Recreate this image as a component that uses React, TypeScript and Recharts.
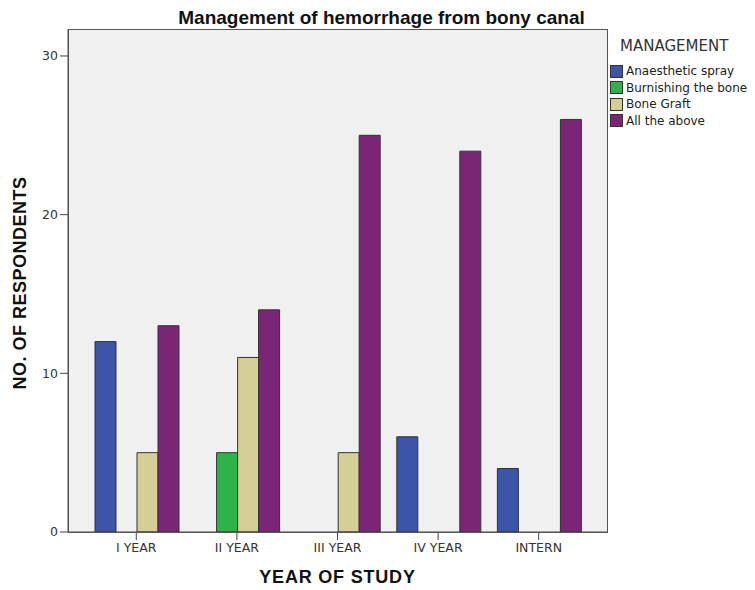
import { BarChart, Bar, XAxis, YAxis, CartesianGrid } from 'recharts'

const years = ['I YEAR', 'II YEAR', 'III YEAR', 'IV YEAR', 'INTERN']
const anaestheticSpray = [12, 0, 0, 6, 4]
const burnishingBone = [0, 5, 0, 0, 0]
const boneGraft = [5, 11, 5, 0, 0]
const allAbove = [13, 14, 25, 24, 26]
const yTicks = [0, 10, 20, 30]

const series = [
  { key: 'spray', name: 'Anaesthetic spray', color: '#3D55A8', values: anaestheticSpray },
  { key: 'burnish', name: 'Burnishing the bone', color: '#2DB34A', values: burnishingBone },
  { key: 'graft', name: 'Bone Graft', color: '#D4CF96', values: boneGraft },
  { key: 'all', name: 'All the above', color: '#7B2576', values: allAbove }
]

const chartData = years.map((year, i) => {
  const row: Record<string, string | number> = { year }
  series.forEach(s => { row[s.key] = s.values[i] })
  return row
})

const font = '"Liberation Sans", Arial, sans-serif'
const smallFont = '"DejaVu Sans", sans-serif'
const tickStyle = { fontSize: 12.5, fill: '#333', fontFamily: smallFont }

export default function App() {
  return (
    <div style={{ position: 'absolute', left: 0, top: 0, width: 755, height: 590, background: '#fff', fontFamily: font }}>
      <div style={{ position: 'absolute', left: 0, width: 755, top: 7, textAlign: 'center', paddingLeft: 4, fontSize: 19, fontWeight: 'bold', color: '#111' }}>
        Management of hemorrhage from bony canal
      </div>
      <BarChart
        width={755}
        height={590}
        data={chartData}
        margin={{ top: 29, right: 148, bottom: 26, left: 0 }}
        barCategoryGap={9}
        barGap={0}
      >
        <CartesianGrid fill="#F0F0F0" horizontal={false} vertical={false} />
        <XAxis
          dataKey="year"
          padding={{ left: 18, right: 18 }}
          height={32}
          tick={tickStyle}
          tickSize={8}
          tickMargin={3}
          stroke="#444"
          interval={0}
        />
        <YAxis
          domain={[0, 31.7]}
          ticks={yTicks}
          width={68}
          tick={tickStyle}
          tickSize={8}
          tickMargin={2}
          stroke="#444"
          allowDataOverflow
        />
        {series.map(s => (
          <Bar
            key={s.key}
            dataKey={s.key}
            name={s.name}
            fill={s.color}
            stroke="#333"
            strokeWidth={1}
            isAnimationActive={false}
          />
        ))}
      </BarChart>
      {/* frame round the plot area */}
      <div style={{ position: 'absolute', left: 68, top: 29, width: 540, height: 504, boxSizing: 'border-box', border: '1px solid #555', pointerEvents: 'none' }} />
      <div style={{ position: 'absolute', left: 0, top: 190, width: 40, height: 190 }}>
        <div style={{ position: 'absolute', left: 20, top: 93, transform: 'translate(-50%, -50%) rotate(-90deg)', whiteSpace: 'nowrap', fontSize: 18, letterSpacing: 0.5, fontWeight: 'bold', color: '#111' }}>
          NO. OF RESPONDENTS
        </div>
      </div>
      <div style={{ position: 'absolute', left: 68, width: 539, top: 567, textAlign: 'center', fontSize: 18, letterSpacing: 0.8, fontWeight: 'bold', color: '#111' }}>
        YEAR OF STUDY
      </div>
      <div style={{ position: 'absolute', left: 620, top: 37, fontSize: 15, fontFamily: smallFont, color: '#333' }}>MANAGEMENT</div>
      <div style={{ position: 'absolute', left: 610, top: 63 }}>
        {series.map(s => (
          <div key={s.key} style={{ display: 'flex', alignItems: 'center', height: 16.5, fontSize: 12, fontFamily: smallFont, color: '#222' }}>
            <span style={{ display: 'inline-block', width: 11, height: 11, background: s.color, border: '1px solid #333', marginRight: 3 }} />
            {s.name}
          </div>
        ))}
      </div>
    </div>
  )
}
